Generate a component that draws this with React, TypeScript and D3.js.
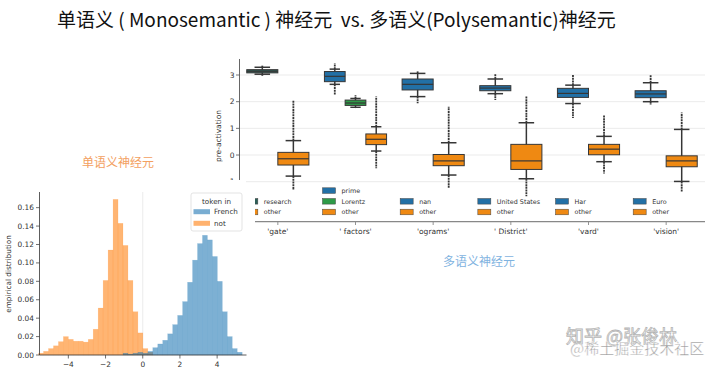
import React, { useEffect, useRef } from 'react';
import * as d3 from 'd3';

// ---- left panel: monosemantic neuron histogram ----
const binStart = -5.6;
const binWidth = 0.267;
const notDensity = [0.002, 0.004, 0.007, 0.010, 0.0145, 0.020, 0.017, 0.015, 0.015, 0.014, 0.017, 0.028,
  0.051, 0.081, 0.114, 0.169, 0.143, 0.119, 0.081, 0.047, 0.024, 0.007, 0.003];
const frenchOffset = 17; // French bins start at this bin index on the same grid
const frenchDensity = [0.002, 0.001, 0.002, 0.003, 0.002, 0.004, 0.008, 0.012, 0.016, 0.023, 0.033, 0.043,
  0.058, 0.079, 0.103, 0.121, 0.130, 0.125, 0.107, 0.080, 0.047, 0.020, 0.007, 0.003];
const histXTicks = [-4, -2, 0, 2, 4];
const histYTicks = [0, 0.02, 0.04, 0.06, 0.08, 0.10, 0.12, 0.14, 0.16];
const histLegend = ['French', 'not'];

// ---- right panel: polysemantic neuron boxplots ----
const categories = ["'gate'", "' factors'", "'ograms'", "' District'", "'vard'", "'vision'"];
const hueLabels = [
  ['research', 'other'],
  ['prime', 'Lorentz', 'other'],
  ['nan', 'other'],
  ['United States', 'other'],
  ['Har', 'other'],
  ['Euro', 'other'],
];
const q1 = [[3.08, -0.375], [2.75, 1.86, 0.39], [2.44, -0.40], [2.41, -0.54], [2.16, 0.01], [2.15, -0.44]];
const median = [[3.14, -0.14], [2.95, 1.95, 0.59], [2.65, -0.22], [2.51, -0.22], [2.31, 0.22], [2.29, -0.22]];
const q3 = [[3.20, 0.10], [3.13, 2.06, 0.79], [2.85, 0.02], [2.60, 0.40], [2.50, 0.40], [2.41, -0.03]];
const whiskerLow = [[3.03, -0.79], [2.65, 1.79, 0.15], [2.19, -0.75], [2.30, -0.89], [1.93, -0.25], [2.00, -0.99]];
const whiskerHigh = [[3.29, 0.54], [3.22, 2.12, 1.06], [3.06, 0.46], [2.85, 1.21], [2.62, 0.70], [2.71, 0.96]];
const flierLow = [[2.97, -1.31], [2.25, 1.76, -0.50], [1.94, -1.25], [2.06, -1.55], [1.39, -0.69], [1.88, -1.40]];
const flierHigh = [[3.35, 2.06], [3.44, 2.25, 2.19], [3.14, 1.81], [3.04, 2.19], [3.03, 1.50], [2.99, 1.59]];
const boxYTicks = [-1, 0, 1, 2, 3];

const hueColor = (label: string) =>
  label === 'other' ? '#ef8912' : label === 'Lorentz' ? '#2e9a47' : label === 'research' ? '#2c5d56' : '#2270a6';

const FONT = 'DejaVu Sans, sans-serif';
const CJK = '"Noto Sans CJK SC", sans-serif';

const App: React.FC = () => {
  const svgRef = useRef<SVGSVGElement>(null);

  useEffect(() => {
    if (!svgRef.current) return;
    const svg = d3.select(svgRef.current);
    svg.selectAll('*').remove();

    svg.append('rect').attr('width', 720).attr('height', 369).attr('fill', '#fff');

    // title
    svg.append('text')
      .attr('x', 57).attr('y', 27)
      .attr('font-family', CJK).attr('font-size', 19).attr('fill', '#111')
      .style('white-space', 'pre')
      .text('单语义 ( Monosemantic ) 神经元  vs. 多语义(Polysemantic)神经元');

    // ===== right chart =====
    const x = d3.scaleBand().domain(categories).range([239, 705]);
    const y = d3.scaleLinear().domain([-1, 3]).range([181.7, 75]);
    const R = svg.append('g');

    // grid
    R.selectAll('line.grid').data(boxYTicks).join('line')
      .attr('x1', 240).attr('x2', 705)
      .attr('y1', d => y(d)).attr('y2', d => y(d))
      .attr('stroke', '#ebebeb').attr('stroke-width', 1);

    // y axis
    R.append('line').attr('x1', 239.5).attr('x2', 239.5).attr('y1', y(3.6)).attr('y2', y(-1))
      .attr('stroke', '#555').attr('stroke-width', 0.9);
    R.selectAll('line.ytick').data(boxYTicks).join('line')
      .attr('x1', 236).attr('x2', 239.5).attr('y1', d => y(d)).attr('y2', d => y(d))
      .attr('stroke', '#555').attr('stroke-width', 0.8);
    R.selectAll('text.ylab').data(boxYTicks).join('text')
      .attr('x', 234.5).attr('y', d => y(d)).attr('dy', '0.35em')
      .attr('text-anchor', 'end').attr('font-family', FONT).attr('font-size', 7.5).attr('fill', '#333')
      .text(d => (d < 0 ? '−' : '') + Math.abs(d));
    R.append('text')
      .attr('transform', 'translate(221,136) rotate(-90)')
      .attr('text-anchor', 'middle').attr('font-family', FONT).attr('font-size', 7.5).attr('fill', '#333')
      .text('pre-activation');

    // boxes
    categories.forEach((c, i) => {
      const n = hueLabels[i].length;
      const groupW = x.bandwidth() * 0.8;
      const bw = groupW / n;
      const x0 = (x(c) as number) + x.bandwidth() / 2 - groupW / 2;
      hueLabels[i].forEach((h, j) => {
        const cx = x0 + bw * (j + 0.5);
        const g = R.append('g');
        const ink = '#363636';
        // fliers (dense outlier markers)
        g.append('line').attr('x1', cx).attr('x2', cx)
          .attr('y1', y(whiskerHigh[i][j])).attr('y2', y(flierHigh[i][j]))
          .attr('stroke', ink).attr('stroke-width', 1.8).attr('stroke-dasharray', '2 0.7');
        g.append('line').attr('x1', cx).attr('x2', cx)
          .attr('y1', y(whiskerLow[i][j])).attr('y2', y(flierLow[i][j]))
          .attr('stroke', ink).attr('stroke-width', 1.8).attr('stroke-dasharray', '2 0.7');
        // whiskers
        g.append('line').attr('x1', cx).attr('x2', cx)
          .attr('y1', y(whiskerLow[i][j])).attr('y2', y(whiskerHigh[i][j]))
          .attr('stroke', ink).attr('stroke-width', 1.5);
        const capW = bw * 0.5;
        [whiskerLow[i][j], whiskerHigh[i][j]].forEach(v => {
          g.append('line').attr('x1', cx - capW / 2).attr('x2', cx + capW / 2)
            .attr('y1', y(v)).attr('y2', y(v))
            .attr('stroke', ink).attr('stroke-width', 1.5);
        });
        g.append('rect')
          .attr('x', cx - bw / 2).attr('width', bw)
          .attr('y', y(q3[i][j])).attr('height', y(q1[i][j]) - y(q3[i][j]))
          .attr('fill', hueColor(h)).attr('stroke', ink).attr('stroke-width', 1);
        g.append('line').attr('x1', cx - bw / 2).attr('x2', cx + bw / 2)
          .attr('y1', y(median[i][j])).attr('y2', y(median[i][j]))
          .attr('stroke', ink).attr('stroke-width', 1.2);
      });
    });

    // per-category legends
    svg.append('defs').append('clipPath').attr('id', 'legclip')
      .append('rect').attr('x', 255).attr('y', 180).attr('width', 465).attr('height', 40);
    const L = R.append('g').attr('clip-path', 'url(#legclip)');
    categories.forEach((c, i) => {
      const cxs = (x(c) as number) + x.bandwidth() / 2;
      const labels = hueLabels[i];
      labels.forEach((h, j) => {
        const row = labels.length - 1 - j;
        const cy = 212 - row * 10.7;
        L.append('rect').attr('x', cxs - 33).attr('y', cy - 2.8).attr('width', 13).attr('height', 5.6)
          .attr('fill', hueColor(h)).attr('stroke', '#444').attr('stroke-width', 0.5);
        L.append('text').attr('x', cxs - 14).attr('y', cy).attr('dy', '0.35em')
          .attr('font-family', FONT).attr('font-size', 6.4).attr('fill', '#333').text(h);
      });
    });

    // x axis (offset)
    R.append('line').attr('x1', 255).attr('x2', 705).attr('y1', 221.7).attr('y2', 221.7)
      .attr('stroke', '#888').attr('stroke-width', 1.2);
    R.selectAll('line.xtick').data(categories).join('line')
      .attr('x1', d => (x(d) as number) + x.bandwidth() / 2).attr('x2', d => (x(d) as number) + x.bandwidth() / 2)
      .attr('y1', 221.7).attr('y2', 225).attr('stroke', '#888').attr('stroke-width', 0.9);
    R.selectAll('text.xlab').data(categories).join('text')
      .attr('x', d => (x(d) as number) + x.bandwidth() / 2).attr('y', 231).attr('dy', '0.35em')
      .attr('text-anchor', 'middle').attr('font-family', FONT).attr('font-size', 7.5).attr('fill', '#333')
      .style('white-space', 'pre')
      .text(d => d);

    svg.append('text').attr('x', 479).attr('y', 262).attr('dy', '0.35em')
      .attr('text-anchor', 'middle').attr('font-family', CJK).attr('font-size', 12).attr('fill', '#7fb3df')
      .text('多语义神经元');

    // ===== left chart (pasted panel) =====
    svg.append('rect').attr('x', 0).attr('y', 180).attr('width', 246).attr('height', 189).attr('fill', '#fff');

    svg.append('text').attr('x', 118).attr('y', 163).attr('dy', '0.35em')
      .attr('text-anchor', 'middle').attr('font-family', CJK).attr('font-size', 12).attr('fill', '#f3a060')
      .text('单语义神经元');

    const hx = d3.scaleLinear().domain([-5.55, 5.6]).range([39.5, 246.9]);
    const hy = d3.scaleLinear().domain([0, 0.177]).range([355, 192]);
    const Lh = svg.append('g');

    Lh.append('line').attr('x1', hx(0)).attr('x2', hx(0)).attr('y1', hy(0.177)).attr('y2', hy(0))
      .attr('stroke', '#e6e6e6').attr('stroke-width', 0.8);

    const drawHist = (vals: number[], offset: number, color: string) => {
      Lh.append('g').selectAll('rect').data(vals).join('rect')
        .attr('x', (_, k) => hx(binStart + (offset + k) * binWidth))
        .attr('width', hx(binWidth) - hx(0))
        .attr('y', d => hy(d))
        .attr('height', d => hy(0) - hy(d))
        .attr('fill', color).attr('fill-opacity', 0.58)
        .attr('stroke', color).attr('stroke-opacity', 0.2).attr('stroke-width', 0.5);
    };
    drawHist(notDensity, 0, '#ff7f0e');
    drawHist(frenchDensity, frenchOffset, '#1f77b4');

    // axes
    Lh.append('line').attr('x1', 39.5).attr('x2', 39.5).attr('y1', 192).attr('y2', 355)
      .attr('stroke', '#333').attr('stroke-width', 0.8);
    Lh.append('line').attr('x1', 39.5).attr('x2', 246.5).attr('y1', 355).attr('y2', 355)
      .attr('stroke', '#333').attr('stroke-width', 0.8);
    Lh.selectAll('line.yt').data(histYTicks).join('line')
      .attr('x1', 36).attr('x2', 39.5).attr('y1', d => hy(d)).attr('y2', d => hy(d))
      .attr('stroke', '#333').attr('stroke-width', 0.7);
    Lh.selectAll('text.yt').data(histYTicks).join('text')
      .attr('x', 34).attr('y', d => hy(d)).attr('dy', '0.35em').attr('text-anchor', 'end')
      .attr('font-family', FONT).attr('font-size', 7.4).attr('fill', '#333')
      .text(d => d3.format('.2f')(d));
    Lh.selectAll('line.xt').data(histXTicks).join('line')
      .attr('x1', d => hx(d)).attr('x2', d => hx(d)).attr('y1', 355).attr('y2', 358.5)
      .attr('stroke', '#333').attr('stroke-width', 0.7);
    Lh.selectAll('text.xt').data(histXTicks).join('text')
      .attr('x', d => hx(d)).attr('y', 364).attr('dy', '0.35em').attr('text-anchor', 'middle')
      .attr('font-family', FONT).attr('font-size', 7.4).attr('fill', '#333')
      .text(d => (d < 0 ? '−' : '') + Math.abs(d));
    Lh.append('text')
      .attr('transform', 'translate(11,274) rotate(-90)').attr('text-anchor', 'middle')
      .attr('font-family', FONT).attr('font-size', 7.3).attr('fill', '#333')
      .text('empirical distribution');

    // legend
    Lh.append('rect').attr('x', 191).attr('y', 193).attr('width', 51).attr('height', 38).attr('rx', 2)
      .attr('fill', '#fff').attr('fill-opacity', 0.85).attr('stroke', '#dcdcdc').attr('stroke-width', 0.8);
    Lh.append('text').attr('x', 216.5).attr('y', 201.5).attr('dy', '0.35em').attr('text-anchor', 'middle')
      .attr('font-family', FONT).attr('font-size', 7.2).attr('fill', '#333').text('token in');
    histLegend.forEach((lab, k) => {
      const cy = 211.7 + k * 11.6;
      Lh.append('rect').attr('x', 193.5).attr('y', cy - 2.5).attr('width', 16.5).attr('height', 5)
        .attr('fill', k === 0 ? '#1f77b4' : '#ff7f0e').attr('fill-opacity', 0.6);
      Lh.append('text').attr('x', 214).attr('y', cy).attr('dy', '0.35em')
        .attr('font-family', FONT).attr('font-size', 7.2).attr('fill', '#333').text(lab);
    });

    // watermarks (overlapping in the source image)
    svg.append('text').attr('x', 566).attr('y', 343)
      .attr('font-family', CJK).attr('font-size', 18).attr('fill', '#fff')
      .attr('stroke', '#b5b5b5').attr('stroke-width', 0.8).style('white-space', 'pre')
      .text('知乎 @张俊林');
    svg.append('text').attr('x', 570).attr('y', 354)
      .attr('font-family', CJK).attr('font-size', 15).attr('fill', '#9a9a9a')
      .attr('stroke', '#fff').attr('stroke-width', 0.4)
      .text('@稀土掘金技术社区');
  }, []);

  return (
    <svg ref={svgRef} width={720} height={369}
      style={{ position: 'absolute', left: 0, top: 0, display: 'block' }} />
  );
};

export default App;
